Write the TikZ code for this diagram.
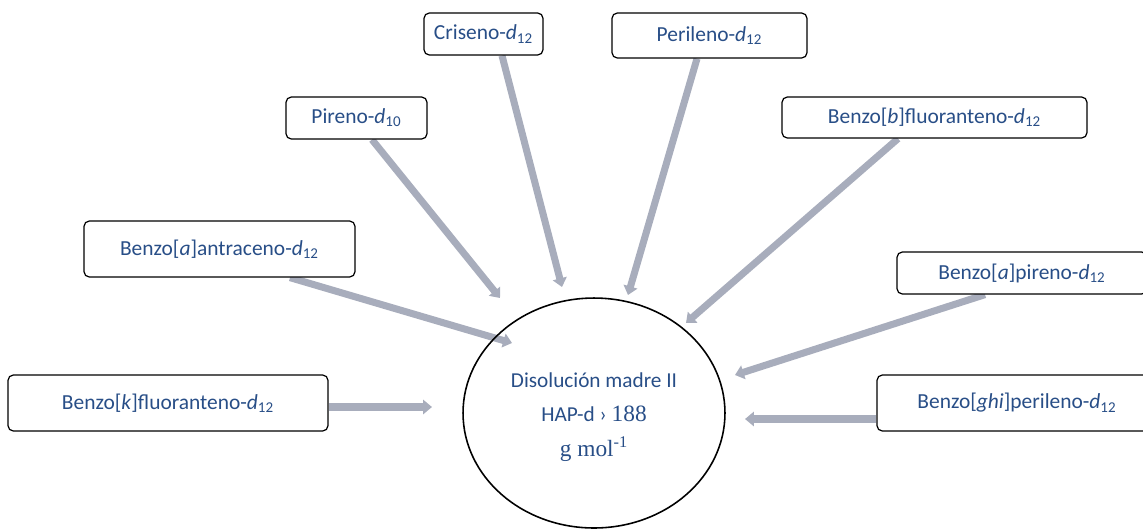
\documentclass[tikz,border=0pt]{standalone}
\usepackage{fontspec}
\setmainfont{Carlito}
\newfontfamily\numserif{Liberation Serif}
\usetikzlibrary{arrows.meta,calc,shapes.geometric,backgrounds}
\definecolor{txtblue}{RGB}{40,78,135}
\definecolor{feedgray}{RGB}{168,173,188}

\begin{document}
\begin{tikzpicture}[x=0.02cm,y=-0.02cm,
  lbl/.style={draw=black, line width=0.7pt, fill=white, rounded corners=3pt,
    text=txtblue, font=\fontsize{12.2}{14}\selectfont, inner sep=0pt},
  feed/.style={draw=feedgray, line width=4pt,
    -{Triangle[length=5pt,width=8pt]}},
  pool/.style={draw=black, line width=0.9pt, ellipse, inner sep=0pt,
    text=txtblue, align=center, font=\fontsize{12.1}{19.8}\selectfont}]
\useasboundingbox (0,0) rectangle (1143,529);

% deuterated standards
\node[lbl, minimum width=2.38cm, minimum height=0.84cm] (cris) at (483.5,34) {Criseno-\textit{d}\textsubscript{12}};
\node[lbl, minimum width=3.90cm, minimum height=0.90cm] (peri) at (709.5,35.5) {Perileno-\textit{d}\textsubscript{12}};
\node[lbl, minimum width=2.82cm, minimum height=0.84cm] (pir) at (356.5,118) {Pireno-\textit{d}\textsubscript{10}};
\node[lbl, minimum width=6.10cm, minimum height=0.82cm] (bbf) at (934.5,117.5) {Benzo[\textit{b}]fluoranteno-\textit{d}\textsubscript{12}};
\node[lbl, minimum width=5.42cm, minimum height=1.12cm] (baa) at (219.5,249) {Benzo[\textit{a}]antraceno-\textit{d}\textsubscript{12}};
\node[lbl, minimum width=5.00cm, minimum height=0.84cm] (bap) at (1022,273) {Benzo[\textit{a}]pireno-\textit{d}\textsubscript{12}};
\node[lbl, minimum width=6.40cm, minimum height=1.12cm] (bkf) at (168,403) {Benzo[\textit{k}]fluoranteno-\textit{d}\textsubscript{12}};
\node[lbl, minimum width=5.60cm, minimum height=1.12cm] (bghi) at (1017,403) {Benzo[\textit{ghi}]perileno-\textit{d}\textsubscript{12}};

% stock solution
\node[pool, minimum width=5.24cm, minimum height=4.6cm] (mix) at (594,413) {};
\node[text=txtblue, align=center, font=\fontsize{12.1}{19.8}\selectfont, inner sep=0pt] (mixtext) at ($(mix.center)+(0,4)$)
  {Disolución madre II\\HAP-d › {\numserif\fontsize{13.3}{19.8}\selectfont 188}\\{\numserif\fontsize{13.3}{19.8}\selectfont g mol\textsuperscript{-1}}};

% free ends of the feed arrows
\coordinate (tcris) at (562,287);
\coordinate (tperi) at (628,295);
\coordinate (tpir) at (500,298);
\coordinate (tbbf) at (686,323);
\coordinate (tbaa) at (512,343);
\coordinate (tbap) at (735,375);
\coordinate (tbkf) at (432,407);
\coordinate (tbghi) at (745,419);

\begin{scope}[on background layer]
  \draw[feed] ($(cris.south)+(18.5,0)$) -- (tcris);
  \draw[feed] ($(peri.south)+(-12.5,0)$) -- (tperi);
  \draw[feed] ($(pir.south)+(15.5,0)$) -- (tpir);
  \draw[feed] ($(bbf.south)+(-36.5,0)$) -- (tbbf);
  \draw[feed] ($(baa.south)+(70.5,0)$) -- (tbaa);
  \draw[feed] ($(bap.south)+(-37,0)$) -- (tbap);
  \draw[feed] ($(bkf.east)+(0,4)$) -- (tbkf);
  \draw[feed] ($(bghi.west)+(0,16)$) -- (tbghi);
\end{scope}
\end{tikzpicture}
\end{document}
